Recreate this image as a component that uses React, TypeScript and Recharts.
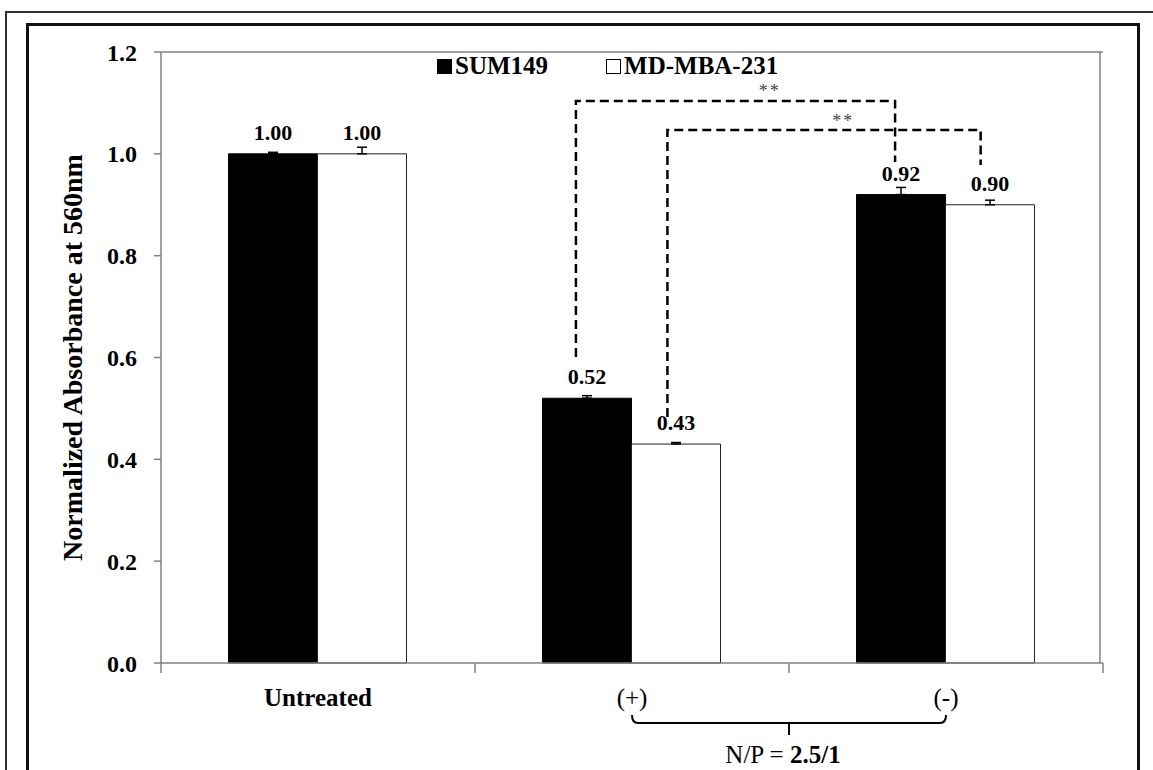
import React from 'react';
import {
  ComposedChart,
  Bar,
  XAxis,
  YAxis,
  ErrorBar,
  LabelList,
  ReferenceLine,
  Legend,
} from 'recharts';

// ---------- data ----------
const categories = ['Untreated', '(+)', '(-)'];
const sum149Values = [1.0, 0.52, 0.92];
const mdaValues = [1.0, 0.43, 0.9];
const sum149Errors = [0.003, 0.005, 0.014];
const mdaErrors = [0.013, 0.003, 0.009];
const yTicks = [0, 0.2, 0.4, 0.6, 0.8, 1.0, 1.2];
const seriesOrder = ['sum149', 'mda'];

// significance brackets: x in category units (category i spans [i, i+1]), y in data units
const sigBrackets = [
  { x1: 1.322, x2: 2.344, yLeft: 0.601, yTop: 1.104, yRight: 0.984, starX: 1.943, starY: 1.112 },
  { x1: 1.615, x2: 2.618, yLeft: 0.483, yTop: 1.047, yRight: 0.978, starX: 2.178, starY: 1.052 },
];
const npLabelPrefix = 'N/P = ';
const npLabelValue = '2.5/1';

const data = categories.map((c, i) => ({
  category: c,
  sum149: sum149Values[i],
  mda: mdaValues[i],
  sumErr: [0, sum149Errors[i]],
  mdaErr: [0, mdaErrors[i]],
}));

const SERIF = '"Liberation Serif", "Times New Roman", Times, serif';
const GRAY = '#808080';
const GAP_FRAC = 0.215;
const Y_MAX = 1.2;

const XTick = (props: any) => {
  const { x, y, payload, index } = props;
  const count = categories.length;
  const half = payload && payload.offset ? payload.offset : props.width / count / 2;
  const isLast = index === count - 1;
  return (
    <g>
      <line x1={x - half} x2={x - half} y1={y} y2={y + 10} stroke={GRAY} strokeWidth={1.5} />
      {isLast && <line x1={x + half} x2={x + half} y1={y} y2={y + 10} stroke={GRAY} strokeWidth={1.5} />}
      <text
        x={x}
        y={y}
        dy={43}
        textAnchor="middle"
        fontFamily={SERIF}
        fontSize={25}
        fontWeight={index === 0 ? 'bold' : 'normal'}
        fill="#000"
      >
        {payload.value}
      </text>
      {index === 1 && (
        <g>
          <path
            d={`M${x},${y + 52} Q${x},${y + 60} ${x + 6},${y + 60} L${x + 2 * half - 6},${y + 60} Q${x + 2 * half},${y + 60} ${x + 2 * half},${y + 52}`}
            fill="none"
            stroke="#000"
            strokeWidth={2}
          />
          <line x1={x + half} x2={x + half} y1={y + 60} y2={y + 72} stroke="#000" strokeWidth={2} />
          <text x={x + half - 6} y={y + 100} textAnchor="middle" fontFamily={SERIF} fontSize={25} fill="#000">
            <tspan>{npLabelPrefix}</tspan>
            <tspan fontWeight="bold">{npLabelValue}</tspan>
          </text>
        </g>
      )}
    </g>
  );
};

// draws the significance brackets (and right plot border) using the geometry of the SUM149 bar at (+)
const SigAnnotations = (props: any) => {
  const { index } = props;
  if (index !== 1) return null;
  const vb = props.viewBox || props;
  const bx = vb.x;
  const by = vb.y;
  const bw = vb.width;
  const bh = vb.height;
  const value = sum149Values[index];
  const barFrac = (1 - 2 * GAP_FRAC) / 2;
  const catW = bw / barFrac;
  const catStart = bx - GAP_FRAC * catW - index * catW;
  const perUnit = bh / value;
  const base = by + bh;
  const px = (p: number) => catStart + p * catW;
  const py = (v: number) => base - v * perUnit;
  const right = px(categories.length);
  return (
    <g>
      <line x1={right} x2={right} y1={py(0)} y2={py(Y_MAX)} stroke={GRAY} strokeWidth={1.5} />
      {sigBrackets.map((b, i) => (
        <g key={i}>
          <path
            d={`M${px(b.x1)},${py(b.yLeft)} L${px(b.x1)},${py(b.yTop)} L${px(b.x2)},${py(b.yTop)} L${px(b.x2)},${py(b.yRight)}`}
            fill="none"
            stroke="#000"
            strokeWidth={2.5}
            strokeDasharray="9 5"
          />
          <text
            x={px(b.starX)}
            y={py(b.starY)}
            textAnchor="middle"
            fontFamily={SERIF}
            fontSize={18}
            fill="#444"
            letterSpacing={2}
          >
            **
          </text>
        </g>
      ))}
    </g>
  );
};

const YLabel = (props: any) => {
  const vb = props.viewBox || { x: 0, y: 52, width: 161, height: 611 };
  const cx = vb.x + 72;
  const cy = vb.y + vb.height / 2;
  return (
    <text
      x={cx}
      y={cy}
      transform={`rotate(-90, ${cx}, ${cy})`}
      textAnchor="middle"
      dominantBaseline="central"
      fontFamily={SERIF}
      fontSize={28}
      fontWeight="bold"
      fill="#000"
    >
      Normalized Absorbance at 560nm
    </text>
  );
};

const LegendContent = (props: any) => {
  const payload = [...(props.payload || [])].sort(
    (a: any, b: any) => seriesOrder.indexOf(a.dataKey) - seriesOrder.indexOf(b.dataKey)
  );
  return (
    <div
      style={{
        display: 'flex',
        alignItems: 'center',
        fontFamily: SERIF,
        fontSize: 25,
        fontWeight: 'bold',
        lineHeight: '28px',
        whiteSpace: 'nowrap',
        color: '#000',
      }}
    >
      {payload.map((entry: any, i: number) => (
        <span key={i} style={{ display: 'flex', alignItems: 'center', marginLeft: i === 0 ? 0 : 58 }}>
          <span
            style={{
              display: 'inline-block',
              width: 13,
              height: 13,
              background: entry.color,
              border: '1px solid #000',
              marginRight: 3,
            }}
          />
          <span>{entry.value}</span>
        </span>
      ))}
    </div>
  );
};

const labelStyle = {
  fill: '#000',
  fontSize: 22,
  fontWeight: 'bold' as any,
  fontFamily: SERIF,
};

export default function App() {
  return (
    <div
      style={{
        position: 'absolute',
        left: 0,
        top: 0,
        width: 1153,
        height: 770,
        overflow: 'hidden',
        background: '#fff',
      }}
    >
      <div
        style={{
          position: 'absolute',
          left: 5,
          top: 11,
          width: 1200,
          height: 900,
          border: '2px solid #333',
        }}
      />
      <div
        style={{
          position: 'absolute',
          left: 26,
          top: 23,
          width: 1108,
          height: 900,
          border: '3px solid #111',
        }}
      />
      <div style={{ position: 'absolute', left: 0, top: 0 }}>
        <ComposedChart
          width={1153}
          height={770}
          data={data}
          margin={{ top: 52, right: 50, bottom: 0, left: 0 }}
          barCategoryGap={`${GAP_FRAC * 100}%`}
          barGap={0}
        >
          <XAxis
            dataKey="category"
            axisLine={{ stroke: GRAY, strokeWidth: 1.5 }}
            tickLine={false}
            tickSize={0}
            tickMargin={0}
            tick={<XTick />}
            height={107}
            interval={0}
          />
          <YAxis
            domain={[0, Y_MAX]}
            ticks={yTicks}
            tickFormatter={(v: number) => v.toFixed(1)}
            axisLine={{ stroke: GRAY, strokeWidth: 1.5 }}
            tickLine={{ stroke: GRAY, strokeWidth: 1.5 }}
            tickSize={7}
            tickMargin={17}
            width={161}
            tick={{ fill: '#000', fontSize: 24, fontWeight: 'bold', fontFamily: SERIF }}
            label={<YLabel />}
          />
          <Legend
            verticalAlign="middle"
            align="center"
            layout="horizontal"
            content={<LegendContent />}
            wrapperStyle={{ top: 52, left: 437, width: 420, height: 28 }}
          />
          <ReferenceLine y={Y_MAX} stroke={GRAY} strokeWidth={1.5} />
          <Bar dataKey="sum149" name="SUM149" fill="#000" stroke="#000" strokeWidth={1} isAnimationActive={false}>
            <ErrorBar dataKey="sumErr" width={5} stroke="#000" strokeWidth={1.5} />
            <LabelList
              dataKey="sum149"
              position="top"
              offset={14}
              formatter={(v: any) => Number(v).toFixed(2)}
              {...labelStyle}
            />
            <LabelList dataKey="sum149" content={<SigAnnotations />} />
          </Bar>
          <Bar dataKey="mda" name="MD-MBA-231" fill="#fff" stroke="#222" strokeWidth={1} isAnimationActive={false}>
            <ErrorBar dataKey="mdaErr" width={5} stroke="#000" strokeWidth={1.5} />
            <LabelList
              dataKey="mda"
              position="top"
              offset={14}
              formatter={(v: any) => Number(v).toFixed(2)}
              {...labelStyle}
            />
          </Bar>
        </ComposedChart>
      </div>
    </div>
  );
}
